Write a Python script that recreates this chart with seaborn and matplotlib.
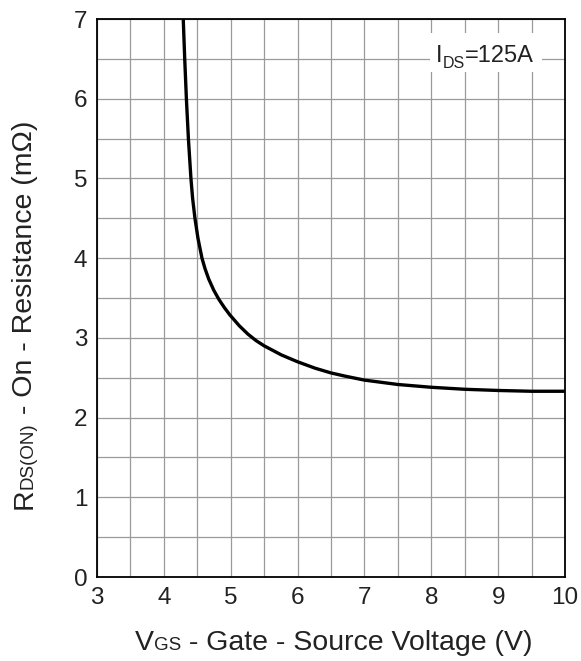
import matplotlib
matplotlib.use("Agg")
import matplotlib.pyplot as plt
from matplotlib.patches import Rectangle
from matplotlib.ticker import MultipleLocator
import seaborn as sns
import pandas as pd

# Gate-source voltage (V) and on-resistance (mOhm) at I_DS = 125 A
vgs = [4.29, 4.312, 4.337, 4.367, 4.405, 4.43, 4.465, 4.51, 4.57, 4.615,
       4.67, 4.745, 4.825, 4.905, 4.985, 5.13, 5.26, 5.38, 5.5, 5.76, 6.0,
       6.26, 6.5, 6.71, 7.0, 7.5, 8.0, 8.5, 9.0, 9.5, 10.0]
rds_on = [7.0, 6.5, 6.0, 5.5, 5.0, 4.75, 4.5, 4.25, 4.0, 3.87,
          3.74, 3.60, 3.48, 3.38, 3.29, 3.15, 3.045, 2.965, 2.90, 2.785, 2.70,
          2.62, 2.56, 2.52, 2.47, 2.415, 2.38, 2.355, 2.34, 2.33, 2.33]

x_ticks = [3, 4, 5, 6, 7, 8, 9, 10]
y_ticks = [0, 1, 2, 3, 4, 5, 6, 7]

sns.set_theme(style="white")
plt.rcParams["font.family"] = ["Liberation Sans", "DejaVu Sans"]

TEXT = "#222222"
DPI = 100
W, H = 581, 661
fig = plt.figure(figsize=(W / DPI, H / DPI), dpi=DPI)
ax = fig.add_axes([97 / W, 1 - 577 / H, (565 - 97) / W, (577 - 19) / H])

df = pd.DataFrame({"vgs": vgs, "rds": rds_on})
sns.lineplot(data=df, x="vgs", y="rds", ax=ax, color="black", linewidth=2.4,
             sort=False, zorder=3)

ax.set_xlim(3, 10)
ax.set_ylim(0, 7)
ax.set_xticks(x_ticks)
ax.set_yticks(y_ticks)
ax.set_xticklabels([str(t) for t in x_ticks])
ax.set_yticklabels([str(t) for t in y_ticks])
ax.xaxis.set_minor_locator(MultipleLocator(0.5))
ax.yaxis.set_minor_locator(MultipleLocator(0.5))
ax.set_axisbelow(True)
ax.grid(True, which="both", color="#9a9a9a", linewidth=0.9)
ax.tick_params(axis="both", which="both", length=0, labelsize=17.5,
               colors=TEXT, pad=7)
ax.set_xlabel("")
ax.set_ylabel("")
for s in ax.spines.values():
    s.set_color("black")
    s.set_linewidth(1.3)
    s.set_zorder(4)

# White panel behind the test-condition note
ax.add_patch(Rectangle((7.98, 6.34), 1.68, 0.49, facecolor="white",
                       edgecolor="none", zorder=1))

fig.canvas.draw()
renderer = fig.canvas.get_renderer()


def make_texts(pieces, rotation=0):
    texts = []
    for s, size, _ in pieces:
        t = fig.text(0, 0, s, fontsize=size, color=TEXT, rotation=rotation,
                     rotation_mode="anchor", ha="left", va="baseline", zorder=6)
        texts.append(t)
    lengths = []
    for t in texts:
        bb = t.get_window_extent(renderer)
        lengths.append(bb.width if rotation == 0 else bb.height)
    return texts, lengths


def run_horizontal(pieces, x_px, y_px, centred=True):
    """Pieces of mixed size on one line; third field shifts a piece down (px)."""
    texts, lengths = make_texts(pieces)
    pos = x_px - sum(lengths) / 2 if centred else x_px
    for t, L, (_, _, drop) in zip(texts, lengths, pieces):
        t.set_position((pos / W, 1 - (y_px + drop) / H))
        pos += L


def run_vertical(pieces, x_px, y_px):
    """Pieces reading bottom to top, centred on y_px, baseline at x_px."""
    texts, lengths = make_texts(pieces, rotation=90)
    pos = y_px + sum(lengths) / 2   # bottom end, in px from the top
    for t, L, (_, _, drop) in zip(texts, lengths, pieces):
        t.set_position(((x_px + drop) / W, 1 - pos / H))
        pos -= L


run_horizontal([("V", 20.5, 0), ("GS", 13.5, 0),
                (" - Gate - Source Voltage (V)", 20.5, 0)], 334, 650)
run_vertical([("R", 20.5, 0), ("DS(ON)", 13.5, 0),
              (" - On - Resistance (m\u03a9)", 20.5, 0)], 32, 315)
run_horizontal([("I", 17, 0), ("DS", 11.5, 6.5), ("=125A", 17, 0)],
               436, 62, centred=False)

fig.savefig("out.png", dpi=DPI)
